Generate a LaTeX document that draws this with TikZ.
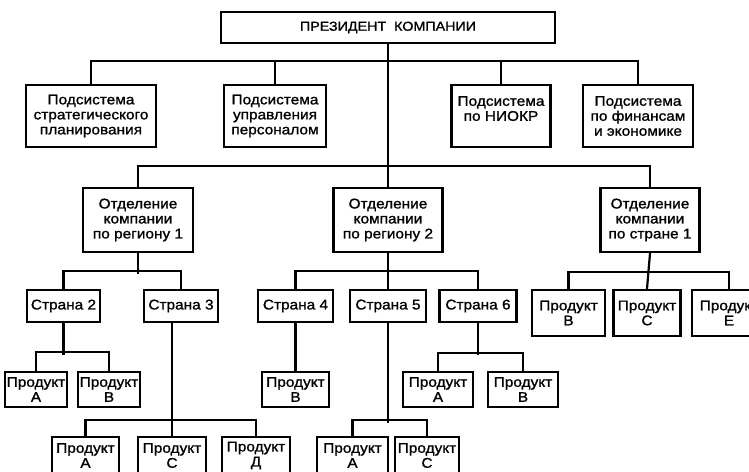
\documentclass[tikz,border=0pt]{standalone}
\usepackage{fontspec}
\setmainfont{Liberation Sans}[FakeStretch=1.1, FakeBold=1.2]
\usetikzlibrary{calc}

\begin{document}
\begin{tikzpicture}[x=1pt, y=-1pt, line cap=rect,
    unit/.style={draw, line width=2.6pt, inner sep=0pt, align=center,
        font=\fontsize{14}{15}\selectfont},
    sub/.style={unit, minimum height=62pt},
    dept/.style={unit, minimum height=64pt},
    ctry/.style={unit, minimum height=32pt},
    prod/.style={unit, minimum height=35pt},
    link/.style={line width=2.2pt}]

    \useasboundingbox (0,0) rectangle (749,471);
    \fill[white] (0,0) rectangle (749,471);

    % top
    \node[unit, minimum width=334pt, minimum height=31pt,
        font=\fontsize{13}{15}\selectfont] (pres) at (388,27.5) {ПРЕЗИДЕНТ\ \ КОМПАНИИ};

    % subsystems
    \node[sub, minimum width=130pt] (s1) at (91,116) {Подсистема\\стратегического\\планирования};
    \node[sub, minimum width=102pt] (s2) at (275,116) {Подсистема\\управления\\персоналом};
    \node[sub, minimum width=99pt] (s3) at (501,116) {Подсистема\\по НИОКР\\~};
    \node[sub, minimum width=110pt] (s4) at (638,116) {Подсистема\\по финансам\\и экономике};

    % divisions
    \node[dept, minimum width=110pt] (div1) at (138,220) {Отделение\\компании\\по региону 1};
    \node[dept, minimum width=109pt] (div2) at (388,220) {Отделение\\компании\\по региону 2};
    \node[dept, minimum width=99pt] (div3) at (650,220) {Отделение\\компании\\по стране 1};

    % countries
    \node[ctry, minimum width=73pt] (c2) at (63.5,306) {Страна 2};
    \node[ctry, minimum width=74pt] (c3) at (181,306) {Страна 3};
    \node[ctry, minimum width=75pt] (c4) at (295.5,306) {Страна 4};
    \node[ctry, minimum width=76pt] (c5) at (388,306) {Страна 5};
    \node[ctry, minimum width=77pt] (c6) at (478,306) {Страна 6};

    % products of country 1
    \node[prod, minimum width=73pt, minimum height=46pt] (dB) at (568.5,313) {Продукт\\В};
    \node[prod, minimum width=67pt, minimum height=46pt] (dC) at (647,313) {Продукт\\С};
    \node[prod, minimum width=74pt, minimum height=46pt] (dE) at (729,313) {Продукт\\Е};

    % products, upper row
    \node[prod, minimum width=62pt] (p2a) at (36,389.5) {Продукт\\А};
    \node[prod, minimum width=62pt] (p2b) at (109,389.5) {Продукт\\В};
    \node[prod, minimum width=67pt] (p4b) at (295.5,389.5) {Продукт\\В};
    \node[prod, minimum width=70pt] (p6a) at (438,389.5) {Продукт\\А};
    \node[prod, minimum width=70pt] (p6b) at (523,389.5) {Продукт\\В};

    % products, lower row
    \node[prod, minimum width=67pt, minimum height=37pt] (p3a) at (85.5,455.5) {Продукт\\А};
    \node[prod, minimum width=68pt, minimum height=37pt] (p3c) at (172,455.5) {Продукт\\С};
    \node[prod, minimum width=68pt, minimum height=37pt] (p3d) at (256,455.5) {Продукт\\Д};
    \node[prod, minimum width=71pt, minimum height=37pt] (p5a) at (352.5,455.5) {Продукт\\А};
    \node[prod, minimum width=64pt, minimum height=37pt] (p5c) at (427,455.5) {Продукт\\С};

    % links
    \draw[link] (s1.north) -- ++(0,-23) -| (s4.north);
    \draw[link] (s2.north) -- ++(0,-23);
    \draw[link] (s3.north) -- ++(0,-23);
    \draw[link] (pres.south) -- (div2.north);

    \draw[link] (div1.north) -- ++(0,-21) -| (div3.north);

    \draw[link] (c2.north) -- ++(0,-18) -| (c3.north);
    \draw[link] (div1.south) -- ++(0,20);
    \draw[link] (c4.north) -- ++(0,-18) -| (c6.north);
    \draw[link] (div2.south) -- (c5.north);
    \draw[link] (dB.north) -- ++(0,-17) -| (dE.north);
    \draw[link] (div3.south) -- (dC.north);

    \draw[link] (p2a.north) -- ++(0,-19) -| (p2b.north);
    \draw[link] (c2.south) -- ++(0,31);
    \draw[link] (p3a.north) -- ++(0,-16) -| (p3d.north);
    \draw[link] (c3.south -| p3c.north) -- (p3c.north);
    \draw[link] (c4.south) -- (p4b.north);
    \draw[link] (p5a.north) -- ++(0,-16) -| (p5c.north);
    \draw[link] (c5.south) -- ++(0,99);
    \draw[link] (p6a.north) -- ++(0,-18) -| (p6b.north);
    \draw[link] (c6.south) -- ++(0,31);

\end{tikzpicture}
\end{document}
